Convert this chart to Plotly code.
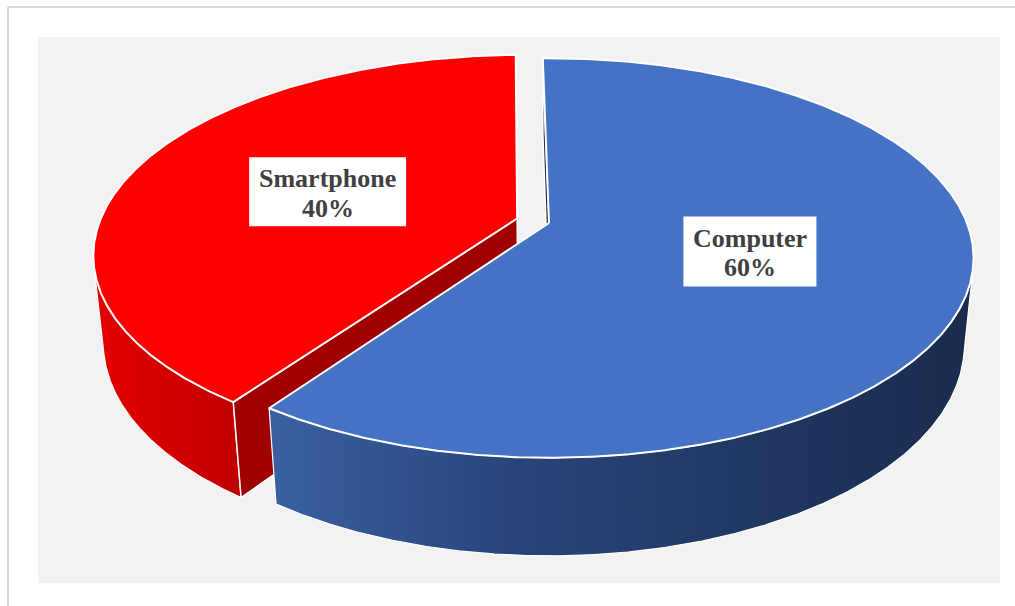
import numpy as np
import plotly.graph_objects as go

# ---------------- data ----------------
categories = ["Computer", "Smartphone"]
shares = [60, 40]

# ---------------- styles ----------------
top_colors = ["#4472c4", "#ff0000"]
wall_scales = [
    [[0, "#3a60a2"], [0.35, "#28457a"], [1, "#1a2b4d"]],
    [[0, "#e60000"], [1, "#bf0000"]],
]
cut_colors = ["#1c2d50", "#a00000"]
explode = [0.0, 0.08]
label_boxes = [(133, 70), (157, 69)]

# ---------------- 3D projection setup (pixel space) ----------------
W, H = 1015, 606
START_DEG = -1.0
CX, CY = 549.0, 223.0
SCALE = 418.0
TILT = np.radians(27.6)
DIST = 5.06
THICK = 0.238
LABEL_R = 0.49
cos_t, sin_t = np.cos(TILT), np.sin(TILT)


def project(X, Y, Z):
    X = np.asarray(X, dtype=float)
    Y = np.asarray(Y, dtype=float)
    Z = np.asarray(Z, dtype=float)
    depth = DIST + Y * cos_t - Z * sin_t
    f = DIST / depth
    return CX + SCALE * X * f, CY - SCALE * (Y * sin_t + Z * cos_t) * f


total = float(sum(shares))
bounds = START_DEG + 360.0 * np.concatenate([[0], np.cumsum(shares)]) / total

fig = go.Figure()
annotations = []
shapes = [
    dict(type="rect", xref="x", yref="y", x0=38, x1=1000, y0=37, y1=583,
         fillcolor="#f2f2f2", line=dict(width=0), layer="below"),
    dict(type="line", xref="x", yref="y", x0=8, x1=W, y0=7, y1=7,
         line=dict(color="#d9d9d9", width=2), layer="below"),
    dict(type="line", xref="x", yref="y", x0=8, x1=8, y0=7, y1=H,
         line=dict(color="#d9d9d9", width=2), layer="below"),
]

EDGE = dict(color="white", width=1.5)


def poly(xs, ys, **kw):
    xs = list(xs) + [xs[0]]
    ys = list(ys) + [ys[0]]
    fig.add_trace(go.Scatter(x=xs, y=ys, mode="lines", fill="toself",
                             hoverinfo="skip", showlegend=False, **kw))


order = list(range(len(categories)))[::-1]
for i in order:
    t1, t2 = np.radians(bounds[i]), np.radians(bounds[i + 1])
    mid = 0.5 * (t1 + t2)
    ox, oy = explode[i] * np.sin(mid), explode[i] * np.cos(mid)
    cam = np.array([-ox, -DIST * cos_t - oy])

    # radial cut faces
    faces = []
    for th, n in ((t1, np.array([-np.cos(t1), np.sin(t1)])),
                  (t2, np.array([np.cos(t2), -np.sin(t2)]))):
        if n @ cam > 0:
            rx, ry = ox + np.sin(th), oy + np.cos(th)
            X = [ox, rx, rx, ox]
            Y = [oy, ry, ry, oy]
            Z = [0, 0, -THICK, -THICK]
            faces.append(project(X, Y, Z))

    # outer wall (visible part only)
    th = np.linspace(t1, t2, 1441)
    g = 1 + ox * np.sin(th) + (DIST * cos_t + oy) * np.cos(th)
    vis = th[g < 0]
    wall = None
    if vis.size > 1:
        X = np.concatenate([ox + np.sin(vis), (ox + np.sin(vis))[::-1]])
        Y = np.concatenate([oy + np.cos(vis), (oy + np.cos(vis))[::-1]])
        Z = np.concatenate([np.zeros(vis.size), -THICK * np.ones(vis.size)])
        wall = project(X, Y, Z)

    def draw_faces():
        for fx, fy in faces:
            poly(fx, fy, fillcolor=cut_colors[i], line=EDGE)

    def draw_wall():
        if wall is not None:
            wx, wy = wall
            poly(wx, wy, line=dict(color="white", width=1.2),
                 fillgradient=dict(type="horizontal", colorscale=wall_scales[i],
                                   start=float(wx.min()), stop=float(wx.max())))

    if i == 0:
        draw_faces()
        draw_wall()
    else:
        draw_wall()
        draw_faces()

    # top face
    tt = np.linspace(t1, t2, 721)
    X = np.concatenate([[ox], ox + np.sin(tt)])
    Y = np.concatenate([[oy], oy + np.cos(tt)])
    tx, ty = project(X, Y, np.zeros(X.size))
    poly(tx, ty, fillcolor=top_colors[i], line=dict(color="white", width=2))

    # label
    lx, ly = project(ox + LABEL_R * np.sin(mid), oy + LABEL_R * np.cos(mid), 0.0)
    lx, ly = float(lx), float(ly)
    bw, bh = label_boxes[i]
    shapes.append(dict(type="rect", xref="x", yref="y",
                       x0=lx - bw / 2, x1=lx + bw / 2, y0=ly - bh / 2, y1=ly + bh / 2,
                       fillcolor="white", line=dict(width=0), layer="above"))
    font = dict(family="Liberation Serif, Times New Roman, serif", size=26, color="#404040")
    annotations.append(dict(x=lx, y=ly - 13, xref="x", yref="y", showarrow=False,
                            text=f"<b>{categories[i]}</b>", font=font,
                            xanchor="center", yanchor="middle"))
    annotations.append(dict(x=lx, y=ly + 16.5, xref="x", yref="y", showarrow=False,
                            text=f"<b>{shares[i]}%</b>", font=font,
                            xanchor="center", yanchor="middle"))

fig.update_layout(
    width=W, height=H,
    margin=dict(l=0, r=0, t=0, b=0),
    paper_bgcolor="white", plot_bgcolor="white",
    xaxis=dict(range=[0, W], visible=False, fixedrange=True),
    yaxis=dict(range=[H, 0], visible=False, fixedrange=True),
    shapes=shapes,
    annotations=annotations,
    showlegend=False,
)

fig.write_html("out.html")
